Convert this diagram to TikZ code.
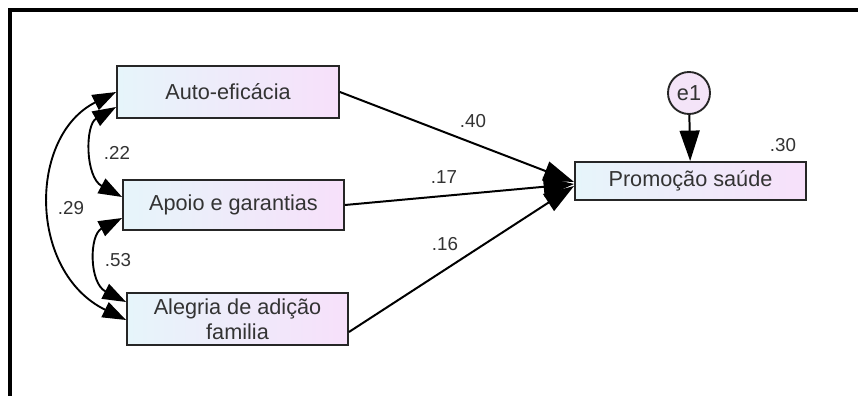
\documentclass[tikz,border=0pt]{standalone}
\usepackage{fontspec}
\setmainfont{Liberation Sans}
\usetikzlibrary{arrows.meta,calc}
\definecolor{txt}{HTML}{333333}
\definecolor{boxL}{HTML}{E6F5FA}
\definecolor{boxR}{HTML}{F7E0FA}
\definecolor{errfill}{HTML}{F4E4F8}
\begin{document}
\begin{tikzpicture}[x=0.03cm,y=-0.03cm,
  varbox/.style={draw=black!85, line width=1.6pt, left color=boxL, right color=boxR,
    font=\fontsize{18.5}{21}\selectfont, text=txt, inner sep=0pt, align=center},
  errnode/.style={circle, draw=black!85, line width=1.6pt, fill=errfill,
    minimum size={42*0.03cm}, inner sep=0pt, font=\fontsize{18.5}{21}\selectfont, text=txt},
  regarrow/.style={line width=1.7pt, -{Triangle[length=26pt,width=17pt]}},
  covarrow/.style={line width=1.6pt, {Triangle[length=20pt,width=14pt]}-{Triangle[length=20pt,width=14pt]}},
  coef/.style={font=\fontsize{16}{18}\selectfont, text=txt, inner sep=0pt}]
\useasboundingbox (0,0) rectangle (858,396);
\fill[white] (0,0) rectangle (858,396);

% frame: top and left rules only
\draw[line width=3.4pt] (10,396) -- (10,10) -- (858,10);

% observed variables
\node[varbox, minimum width={222*0.03cm}, minimum height={52*0.03cm}] (auto) at (228,92) {Auto-eficácia};
\node[varbox, minimum width={221*0.03cm}, minimum height={50*0.03cm}] (apoio) at (233.5,205) {Apoio e garantias};
\node[varbox, minimum width={221*0.03cm}, minimum height={52*0.03cm}] (alegria) at (237.5,319) {Alegria de adição\\familia};
\node[varbox, minimum width={231*0.03cm}, minimum height={38*0.03cm}] (prom) at (690.5,181) {Promoção saúde};

% error term
\node[errnode] (e1) at (689,93) {e1};

% regression paths, all meeting on the left side of the outcome
\draw[regarrow] (auto.east) -- ($(prom.west)+(0,1)$);
\draw[regarrow] (apoio.east) -- ($(prom.west)+(0,3)$);
\draw[regarrow] ($(alegria.east)+(0,13)$) -- ($(prom.west)+(0,5)$);
\draw[regarrow] (e1) -- (prom);

% covariances
\draw[covarrow] ($(auto.west)+(0,15)$) .. controls (85,125) and (85,177) .. ($(apoio.west)+(0,-8)$);
\draw[covarrow] (auto.west) .. controls (28,136) and (28,272) .. ($(alegria.west)+(0,1)$);
\draw[covarrow] ($(apoio.west)+(0,13)$) .. controls (89,235) and (89,283) .. ($(alegria.west)+(0,-17)$);

% coefficients
\node[coef] (c22) at (117,153) {.22};
\node[coef] (c29) at (71,208) {.29};
\node[coef] (c53) at (118,260) {.53};
\node[coef] (c40) at (473,121) {.40};
\node[coef] (c17) at (444,177) {.17};
\node[coef] (c16) at (445,244) {.16};
\node[coef] (c30) at (783,145) {.30};
\end{tikzpicture}
\end{document}
